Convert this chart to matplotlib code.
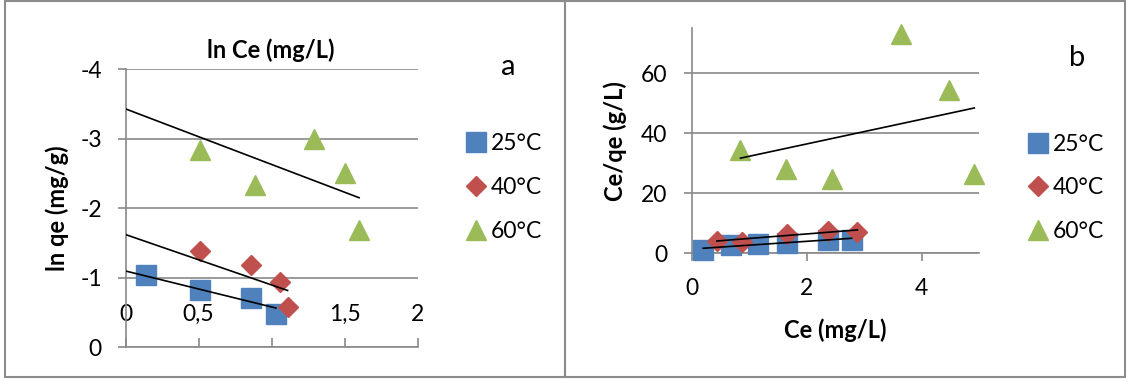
# Isotermas (a) ln qe x ln Ce e (b) Ce/qe x Ce
import numpy as np
import matplotlib.pyplot as plt
import matplotlib.ticker as ticker
from matplotlib.patches import Rectangle

plt.rcParams['font.family'] = ['Lato', 'DejaVu Sans']
plt.rcParams['axes.unicode_minus'] = False

# ------------------------------------------
# Dados
# ------------------------------------------
temperaturas = ['25°C', '40°C', '60°C']

# (a) ln Ce (mg/L) x ln qe (mg/g)
lnCe_25 = [0.14, 0.51, 0.86, 1.03]
lnqe_25 = [-1.04, -0.82, -0.70, -0.47]
lnCe_40 = [0.51, 0.86, 1.06, 1.11]
lnqe_40 = [-1.38, -1.18, -0.93, -0.58]
lnCe_60 = [0.51, 0.89, 1.29, 1.50, 1.60]
lnqe_60 = [-2.84, -2.33, -3.00, -2.51, -1.69]

# (b) Ce (mg/L) x Ce/qe (g/L)
Ce_25 = [0.19, 0.68, 1.14, 1.65, 2.37, 2.78]
Ceqe_25 = [1.2, 2.8, 3.2, 3.4, 4.5, 4.3]
Ce_40 = [0.43, 0.87, 1.65, 2.36, 2.88]
Ceqe_40 = [4.0, 3.9, 6.5, 7.5, 7.2]
Ce_60 = [0.84, 1.64, 2.43, 3.64, 4.47, 4.92]
Ceqe_60 = [34.4, 28.2, 24.8, 73.2, 54.5, 26.5]

# retas de tendencia: (inclinacao, intercepto)
reta_a = [(0.518, -1.095), (0.726, -1.62), (0.80, -3.43)]
reta_b = [(1.28, 1.44), (1.50, 3.46), (4.10, 28.27)]

# Estilo (cores padrao do Excel)
cores = ['#4F81BD', '#C0504D', '#9BBB59']
marcadores = ['s', 'D', '^']
tamanhos = [14, 10, 14]
cinza = '#898989'

W, H = 1129, 383
fig = plt.figure(figsize=(W / 100, H / 100), dpi=100)

# molduras dos dois graficos
for x0 in [5, 565]:
    fig.add_artist(Rectangle((x0 / W, 6 / H), 560 / W, 376 / H, transform=fig.transFigure,
                             fill=False, ec='#8c8c8c', lw=1.5))


def virgula(v, pos):
    return f'{v:g}'.replace('.', ',')


def estilo_eixo(ax):
    for s in ['top', 'right']:
        ax.spines[s].set_visible(False)
    for s in ['left', 'bottom']:
        ax.spines[s].set_color(cinza)
        ax.spines[s].set_linewidth(1.2)
    ax.grid(axis='y', color=cinza, lw=1.2)
    ax.set_axisbelow(True)


# ------------------------------------------
# Grafico (a)
# ------------------------------------------
ax1 = fig.add_axes([125.5 / W, 36 / H, 292 / W, 277.7 / H])
series_a = [(lnCe_25, lnqe_25), (lnCe_40, lnqe_40), (lnCe_60, lnqe_60)]
for (xs, ys), cor, m, ms, lab in zip(series_a, cores, marcadores, tamanhos, temperaturas):
    ax1.plot(xs, ys, ls='none', marker=m, ms=ms, color=cor, label=lab, clip_on=False, zorder=3)
for (xs, ys), (inc, ic) in zip(series_a, reta_a):
    xr = np.array([0, max(xs)])
    ax1.plot(xr, inc * xr + ic, color='black', lw=1.2, zorder=4)

ax1.set_xlim(0, 2)
ax1.set_ylim(0, -4)
ax1.set_xticks([0, 0.5, 1, 1.5, 2])
ax1.set_yticks([0, -1, -2, -3, -4])
ax1.xaxis.set_major_formatter(ticker.FuncFormatter(virgula))
ax1.tick_params(axis='x', direction='in', length=6.5, width=1.2, color=cinza, pad=-31, labelsize=16.5)
ax1.tick_params(axis='y', direction='out', length=6, width=1.2, color=cinza, pad=11, labelsize=16.5)
estilo_eixo(ax1)

fig.text(271 / W, 1 - 50 / H, 'ln Ce (mg/L)', ha='center', va='center', fontsize=17, fontweight='bold')
fig.text(57.7 / W, 1 - 208 / H, 'ln qe (mg/g)', ha='center', va='center', rotation=90,
         fontsize=17, fontweight='bold')
fig.text(508 / W, 1 - 67 / H, 'a', ha='center', va='center', fontsize=21)
ax1.legend(loc='center left', bbox_to_anchor=(444 / W, 1 - 187.5 / H), bbox_transform=fig.transFigure,
           frameon=False, handlelength=1.0, handletextpad=0.15, labelspacing=1.0, fontsize=16.5,
           numpoints=1, borderpad=0.4)

# ------------------------------------------
# Grafico (b)
# ------------------------------------------
ax2 = fig.add_axes([692.3 / W, 129.7 / H, 286.6 / W, 225 / H])
series_b = [(Ce_25, Ceqe_25), (Ce_40, Ceqe_40), (Ce_60, Ceqe_60)]
for (xs, ys), cor, m, ms, lab in zip(series_b, cores, marcadores, tamanhos, temperaturas):
    ax2.plot(xs, ys, ls='none', marker=m, ms=ms, color=cor, label=lab, clip_on=False, zorder=3)
for (xs, ys), (inc, ic) in zip(series_b, reta_b):
    xr = np.array([min(xs), max(xs)])
    ax2.plot(xr, inc * xr + ic, color='black', lw=1.2, zorder=4)

ax2.set_xlim(0, 5)
ax2.set_ylim(0, 75)
ax2.set_xticks([0, 2, 4])
ax2.set_yticks([0, 20, 40, 60])
ax2.tick_params(axis='both', direction='out', length=6, width=1.2, color=cinza, pad=12, labelsize=16.5)
estilo_eixo(ax2)

fig.text(835.4 / W, 1 - 330 / H, 'Ce (mg/L)', ha='center', va='center', fontsize=17, fontweight='bold')
fig.text(615.6 / W, 1 - 140.8 / H, 'Ce/qe (g/L)', ha='center', va='center', rotation=90,
         fontsize=17, fontweight='bold')
fig.text(1077.6 / W, 1 - 58 / H, 'b', ha='center', va='center', fontsize=21)
ax2.legend(loc='center left', bbox_to_anchor=(1006 / W, 1 - 188 / H), bbox_transform=fig.transFigure,
           frameon=False, handlelength=1.0, handletextpad=0.15, labelspacing=1.0, fontsize=16.5,
           numpoints=1, borderpad=0.4)

fig.savefig('out.png', dpi=100)
